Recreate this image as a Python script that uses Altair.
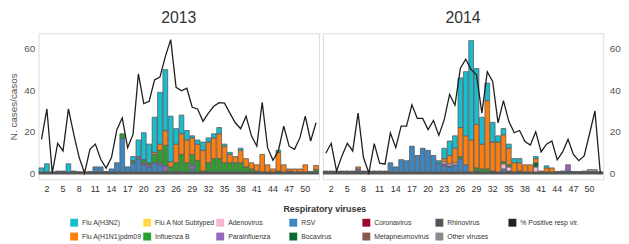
import altair as alt
import pandas as pd

weeks = list(range(1, 53))
tick_weeks = list(range(2, 51, 3))
y_ticks = [0, 20, 40, 60]

legend_domain = ["Flu A(H3N2)", "Flu A Not Subtyped", "Adenovirus", "RSV", "Coronavirus",
                 "Rhinovirus", "% Positive resp vir.", "Flu A(H1N1)pdm09", "Influenza B",
                 "Parainfluenza", "Bocavirus", "Metapneumovirus", "Other viruses"]
legend_colors = ["#17becf", "#ffd94a", "#f7b6d2", "#3c87c2", "#9e0a2b",
                 "#555555", "#222222", "#ff7f0e", "#2ca02c",
                 "#9467bd", "#0b6b2e", "#8c564b", "#8a8a8a"]

# stacking order, bottom to top
stack_order = ["Rhinovirus", "RSV", "Parainfluenza", "Adenovirus", "Bocavirus",
               "Influenza B", "Flu A(H1N1)pdm09", "Flu A(H3N2)"]

# ---------------- 2013 ----------------
rsv_2013 = [0, 0, 0, 0, 1, 0, 0, 0, 0, 0,
            3, 3, 0, 2, 5, 17, 3, 5, 7, 4,
            3, 5, 4, 1, 0, 1, 0, 0, 2, 0,
            0, 0, 0, 0, 0, 0, 0, 0, 0, 0,
            0, 0, 0, 0, 0, 0, 0, 0, 0, 0,
            0, 0]
para_2013 = [0, 0, 0, 0, 0, 0, 0, 0, 0, 0,
             0, 0, 0, 0, 0, 0, 0, 0, 1, 1,
             1, 0, 1, 2.5, 0, 0, 0, 0, 2, 0,
             0, 0, 0, 0, 0, 0, 0, 0, 0, 0,
             0, 0, 0, 0, 0, 0, 1, 0, 0, 0,
             0, 0]
adeno_2013 = [0, 0, 0, 0, 0, 0, 0, 0, 0, 0,
              0, 0, 0, 0, 0, 0, 0, 0, 0, 0,
              0, 0, 0, 0, 0, 0, 0, 0, 0, 0,
              0, 0, 0, 0, 0, 0, 0, 0, 0, 0,
              0, 0, 0, 0, 0, 0, 0, 0, 0, 0,
              0, 0.7]
boca_2013 = [0, 0, 0, 0, 0, 0, 0, 0, 0, 0,
             0, 0, 0, 0, 0, 0, 0, 0, 0, 0,
             0, 0, 0, 0, 0, 0, 0, 0, 0, 0,
             0, 0, 0, 0, 0, 0, 0, 0, 0, 0,
             0, 0, 0, 0, 1, 0, 0, 0, 0, 0,
             0, 0]
flub_2013 = [0, 0, 0, 0, 0, 0, 1, 0, 0, 0,
             0, 0, 0, 0, 0, 2, 0, 1, 0, 1.5,
             1, 4, 6, 10, 3, 4, 9, 5, 5, 6,
             1, 5, 7, 7, 5, 5, 5, 5, 3, 2,
             1, 0, 0, 0, 0, 0, 0, 0, 0, 0,
             0, 1]
h1n1_2013 = [0, 0, 0, 0, 0, 0, 0, 0, 0, 0,
             0, 0, 0, 0, 0, 0, 0, 0, 0, 0,
             0, 1, 3, 7, 2.5, 9, 10, 11, 8, 8,
             10, 10, 10, 12, 8, 4, 3, 6, 4, 3,
             3, 9, 4, 2, 9, 4, 1, 2, 2, 4,
             0, 2]
h3n2_2013 = [2.5, 4.5, 0, 1, 0, 4.5, 0, 0, 0, 0,
             0, 0, 0, 0, 0, 0, 0, 2, 8, 13,
             9, 17, 25, 29.5, 22, 7.5, 9, 4.6, 1, 2,
             4, 2, 2, 3, 1, 1, 0, 1, 0, 0,
             0, 0, 0, 0, 1, 0, 0, 0, 0, 0,
             0, 0]
rhino_2013 = [0, 0, 0, 0, 0, 0, 0, 0.6, 0, 0.8,
              0, 0, 0.8, 0, 0, 0, 0, 0, 0, 0,
              0, 0, 0, 0, 0, 0, 0, 0, 0, 0,
              0, 0, 0, 0, 0, 0, 0, 0, 0, 0,
              0, 0, 0, 0, 0, 0, 0, 0, 0, 0,
              0.8, 0]
pct_2013 = [16.3, 31, 0, 14.4, 10.7, 31, 18.7, 7.5, 0, 11.5,
            14, 6.7, 2.4, 7.5, 21, 26.7, 12.3, 18.7, 48, 33.6,
            34.7, 45, 46.4, 56.3, 64.5, 41.4, 39.8, 41, 31.8, 31,
            25, 29, 32.3, 34, 33.8, 29, 24.3, 21.4, 27.5, 18,
            13, 34.2, 12.3, 6.2, 10.7, 22.7, 13, 11.5, 17, 27.5,
            15.5, 24.3]

# ---------------- 2014 ----------------
rsv_2014 = [0, 0, 0, 0, 0, 0, 0.5, 0, 0, 0,
            0, 0, 5, 3, 6.5, 6, 13, 8.5, 12, 11,
            8.5, 5, 3.5, 3, 4, 7, 4, 0, 1, 0,
            0, 0, 0, 2, 1, 0, 1, 0, 0, 0,
            0, 0, 0, 0, 1, 1, 0, 0, 0, 0,
            0, 0]
para_2014 = [0, 0, 0, 0, 0, 0, 1, 0, 0, 0,
             0, 0, 0, 0, 0, 0, 0, 0, 0, 0,
             0, 0, 1, 0.5, 0, 0, 0, 0, 0, 0,
             0, 0, 0, 0, 0, 0, 0, 0, 0, 0,
             0, 0, 0, 0, 0, 3, 0, 0, 1, 1,
             1, 0]
adeno_2014 = [0, 0, 0, 0, 0, 0, 0, 0, 0, 0,
              0, 0, 0, 0, 0, 0, 0, 0, 0, 0,
              0, 0, 1, 1, 1, 0, 0, 0, 0, 0,
              0, 0, 0, 2.5, 2, 0, 0, 0, 0, 3,
              0, 0, 0, 0, 0, 0, 0, 0, 0, 0.7,
              0.7, 0]
boca_2014 = [0, 0, 0, 0, 0, 0, 0, 0, 0, 0,
             0, 0, 0, 0, 0, 0, 0, 0, 0, 0,
             0, 0, 0, 0, 0, 0, 0, 0, 0, 0,
             0, 0, 0, 0, 0, 0, 0, 0, 0, 2,
             0, 0, 0, 0, 0, 0, 0, 0, 0, 0,
             0, 0]
flub_2014 = [0, 0, 0, 0, 0, 0, 0, 0, 0, 0,
             0, 0, 0, 0, 0, 0, 0, 0, 0, 0,
             0, 0, 0, 0, 0, 1, 0, 0, 1.5, 2,
             2, 1, 0, 1, 1, 0, 0, 0, 0, 0,
             0, 0, 0, 0, 0, 0, 0, 0, 0, 0,
             0, 0]
h1n1_2014 = [0, 0, 0, 0, 0, 0, 1, 0, 0, 0,
             0, 0, 0, 0, 0, 0, 0, 0, 0, 0,
             0, 0, 1.5, 4, 7, 14, 14, 16, 21, 12,
             33, 14, 15, 13, 8, 5, 4, 4, 4, 2,
             1, 2.5, 2.5, 0, 0, 0, 0, 0, 0, 0,
             0, 0]
h3n2_2014 = [0, 0, 0, 0, 0, 0, 0, 0, 0, 0,
             0, 0, 0, 0, 0, 0, 0, 0, 0, 0,
             0, 1, 5, 7, 6, 24, 31, 48, 27, 13,
             8.5, 9.5, 3, 3, 2, 2, 2, 0, 0, 1,
             0, 1, 0, 0, 0, 0, 0, 0, 0, 0,
             0, 0]
rhino_2014 = [1, 1, 1, 1, 1, 1, 0.5, 1, 1, 1,
              1, 1, 0, 0, 0, 0, 0, 0, 0, 0,
              0, 0, 0, 0, 0, 0, 0, 0, 0, 0,
              0, 0, 0, 0, 0, 0, 0, 0, 0, 0,
              0, 0, 0, 0.8, 0, 0, 0.8, 0.8, 0, 0,
              0, 0.5]
pct_2014 = [9.6, 14.4, 1, 8.3, 14.4, 10.7, 29, 7.5, 0, 14.2,
            4.8, 4.3, 19.4, 12.3, 22.7, 22.7, 33, 26.4, 26.4, 21,
            25.4, 18.2, 25.8, 38, 32.8, 50.7, 55, 50, 47.5, 29,
            49, 44.3, 24.3, 35, 25, 19.5, 20.6, 15.2, 13.6, 20,
            10.2, 14, 15.5, 6.4, 10.2, 16.3, 9, 6, 8.3, 19,
            30, 0]

series = {
    "2013": {"Rhinovirus": rhino_2013, "RSV": rsv_2013, "Parainfluenza": para_2013,
             "Adenovirus": adeno_2013, "Bocavirus": boca_2013, "Influenza B": flub_2013,
             "Flu A(H1N1)pdm09": h1n1_2013, "Flu A(H3N2)": h3n2_2013},
    "2014": {"Rhinovirus": rhino_2014, "RSV": rsv_2014, "Parainfluenza": para_2014,
             "Adenovirus": adeno_2014, "Bocavirus": boca_2014, "Influenza B": flub_2014,
             "Flu A(H1N1)pdm09": h1n1_2014, "Flu A(H3N2)": h3n2_2014},
}
pct = {"2013": pct_2013, "2014": pct_2014}

FONT = "Liberation Sans"
Y_DOMAIN = [-3, 67.6]
PANEL_W = 284
PANEL_H = 148

legend = alt.Legend(
    orient="none", legendX=32, legendY=174, direction="horizontal", columns=7,
    title="Respiratory viruses", titleAnchor="middle", titleFontSize=9,
    titleFontWeight="bold", titleColor="#333", titleFont=FONT, titlePadding=5,
    symbolType="square", symbolSize=64, symbolStrokeWidth=0,
    labelFontSize=7, labelFont=FONT,
    labelColor="#333", labelLimit=62, gridAlign="all", columnPadding=1,
    rowPadding=6, labelOffset=4,
)


def panel(year, left):
    rows = []
    for virus, vals in series[year].items():
        for w, v in zip(weeks, vals):
            if v > 0:
                rows.append({"week": w, "virus": virus, "cases": v,
                             "rank": stack_order.index(virus)})
    bars_df = pd.DataFrame(rows)
    line_df = pd.DataFrame({"week": weeks, "pct": pct[year]})

    yscale = alt.Scale(domain=Y_DOMAIN, nice=False, zero=False)
    xscale = alt.Scale(domain=weeks, paddingInner=0.12, paddingOuter=0.1)
    xaxis = alt.Axis(values=tick_weeks, labelAngle=0, title=None, ticks=False,
                     domain=False, labelFontSize=9, labelPadding=5,
                     labelColor="#333", labelFont=FONT)
    if left:
        yaxis = alt.Axis(orient="left", values=y_ticks, title="N. cases/casos",
                         grid=False, ticks=False, domain=False, labelFontSize=10,
                         titleFontSize=10, titleFontWeight="normal",
                         titleColor="#555", labelColor="#555", labelPadding=4,
                         titlePadding=5, labelFont=FONT, titleFont=FONT)
    else:
        yaxis = alt.Axis(orient="right", values=y_ticks, title=None, grid=False,
                         ticks=False, domain=False, labelFontSize=10,
                         labelColor="#555", labelPadding=6, labelFont=FONT)

    bars = alt.Chart(bars_df).mark_bar(stroke="#5a5a5a", strokeWidth=0.8).encode(
        x=alt.X("week:O", scale=xscale, axis=xaxis),
        y=alt.Y("cases:Q", stack="zero", scale=yscale, axis=yaxis),
        color=alt.Color("virus:N",
                        scale=alt.Scale(domain=legend_domain, range=legend_colors),
                        legend=legend),
        order=alt.Order("rank:Q"),
    )
    zero = alt.Chart(pd.DataFrame({"z": [0]})).mark_rule(
        color="#555555", strokeWidth=3).encode(
        y=alt.Y("z:Q", scale=yscale, axis=yaxis))
    line = alt.Chart(line_df).mark_line(color="#1e1e1e", strokeWidth=1.3).encode(
        x=alt.X("week:O", scale=xscale, axis=xaxis),
        y=alt.Y("pct:Q", scale=yscale, axis=yaxis),
    )
    return alt.layer(bars, zero, line).properties(
        width=PANEL_W, height=PANEL_H,
        title=alt.TitleParams(year, fontSize=16, fontWeight="normal", color="#333",
                              anchor="middle", font=FONT, offset=7),
    )


chart = alt.hconcat(panel("2013", True), panel("2014", False), spacing=0).resolve_scale(
    color="shared").properties(padding=0).configure_view(stroke="#cccccc").configure(
    font=FONT)

chart.save("out.html", embed_options={"renderer": "svg", "actions": False})
